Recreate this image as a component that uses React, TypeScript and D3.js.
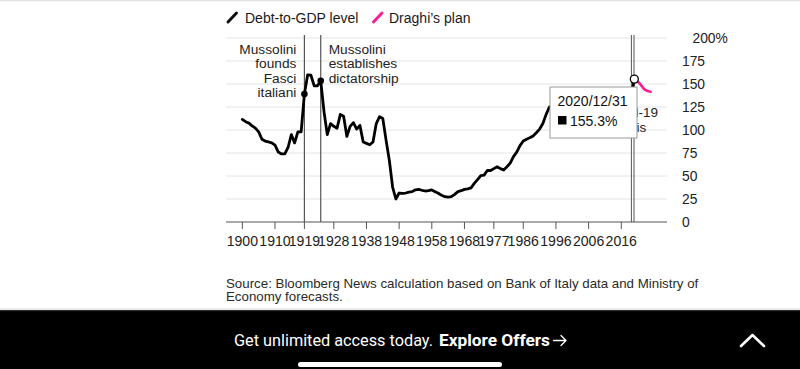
import React from "react";
import * as d3 from "d3";

const years = [
  1900, 1901, 1902, 1903, 1904, 1905, 1906, 1907, 1908, 1909,
  1910, 1911, 1912, 1913, 1914, 1915, 1916, 1917, 1918, 1919,
  1920, 1921, 1922, 1923, 1924, 1925, 1926, 1927, 1928, 1929,
  1930, 1931, 1932, 1933, 1934, 1935, 1936, 1937, 1938, 1939,
  1940, 1941, 1942, 1943, 1944, 1945, 1946, 1947, 1948, 1949,
  1950, 1951, 1952, 1953, 1954, 1955, 1956, 1957, 1958, 1959,
  1960, 1961, 1962, 1963, 1964, 1965, 1966, 1967, 1968, 1969,
  1970, 1971, 1972, 1973, 1974, 1975, 1976, 1977, 1978, 1979,
  1980, 1981, 1982, 1983, 1984, 1985, 1986, 1987, 1988, 1989,
  1990, 1991, 1992, 1993, 1994, 1995, 1996, 1997, 1998, 1999,
  2000, 2001, 2002, 2003, 2004, 2005, 2006, 2007, 2008, 2009,
  2010, 2011, 2012, 2013, 2014, 2015, 2016, 2017, 2018, 2019,
  2020,
];
const debtLevel = [
  111.5, 109, 107.5, 104.5, 102, 98, 90, 88, 87, 86,
  83.5, 76, 74, 74, 81, 95, 86, 98, 98, 139,
  160, 159.5, 148, 148, 153.5, 120, 95, 107, 104, 102,
  117, 115, 93, 104, 108, 101, 105, 87, 85.5, 84,
  87, 107, 114.5, 112.5, 89, 67, 38, 25, 31.5, 31,
  31.5, 32.5, 33, 35, 35.5, 34.5, 33.7, 34, 34.8, 33,
  31.2, 29, 27.5, 27, 27.5, 30, 33, 34, 35.5, 36,
  37, 42, 46, 50.5, 51, 56, 56, 58, 60, 58,
  56.5, 60, 64, 71, 76, 83, 88, 90, 91.5, 93.5,
  97, 101, 107, 117, 125, 122, 120, 117, 114, 112,
  108, 108, 105, 103, 103, 105, 106, 103, 106, 116,
  119, 120, 127, 132, 135, 135, 135, 134, 134.5, 134.5,
  155.3,
];
const planYears = [2020, 2021, 2022, 2023, 2024, 2025];
const planValues = [155.3, 153, 149, 144.5, 142.5, 141.5];

const xTicks = [1900, 1910, 1919, 1928, 1938, 1948, 1958, 1968, 1977, 1986, 1996, 2006, 2016];
const yTicks = [0, 25, 50, 75, 100, 125, 150, 175, 200];

const events = [
  { year: 1919, value: 139, lines: ["Mussolini", "founds", "Fasci", "italiani"], side: "left" },
  { year: 1924, value: 153.5, lines: ["Mussolini", "establishes", "dictatorship"], side: "right" },
];
const covidRange = [2019.1, 2019.9];
const covidLines = ["Covid-19", "crisis"];

const tooltipDate = "2020/12/31";
const tooltipYear = 2020;
const tooltipValue = 155.3;

const legendItems = [
  { label: "Debt-to-GDP level", color: "#111" },
  { label: "Draghi\u2019s plan", color: "#f81d92" },
];

const sourceLines = [
  "Source: Bloomberg News calculation based on Bank of Italy data and Ministry of",
  "Economy forecasts.",
];

const FONT = "'Liberation Sans', Arial, Helvetica, sans-serif";
const PINK = "#f81d92";

export default function App() {
  const W = 800;
  const H = 369;
  const x = d3.scaleLinear().domain([1895, 2030]).range([226, 667]);
  const y = d3.scaleLinear().domain([0, 200]).range([222, 38]);

  const debtData = years.map((yr, i) => ({ yr, v: debtLevel[i] }));
  const planData = planYears.map((yr, i) => ({ yr, v: planValues[i] }));

  const line = d3
    .line<{ yr: number; v: number }>()
    .x((d) => x(d.yr))
    .y((d) => y(d.v));
  const planLine = d3
    .line<{ yr: number; v: number }>()
    .x((d) => x(d.yr))
    .y((d) => y(d.v))
    .curve(d3.curveMonotoneX);

  const [x0, x1] = x.range();
  const lineTop = 35;

  const tx = 550;
  const ty = 87;
  const tw = 87;
  const th = 51;

  return (
    <svg
      width={W}
      height={H}
      style={{ position: "absolute", left: 0, top: 0, background: "#fff" }}
      fontFamily={FONT}
    >
      <rect x={0} y={0} width={W} height={1.2} fill="#e2e2e2" />

      {/* legend */}
      <g>
        <line x1={228} y1={22} x2={236.5} y2={13} stroke={legendItems[0].color} strokeWidth={3} strokeLinecap="round" />
        <text x={245} y={22.5} fontSize={14} fill="#1a1a1a">{legendItems[0].label}</text>
        <line x1={373.5} y1={22} x2={382} y2={13} stroke={legendItems[1].color} strokeWidth={3} strokeLinecap="round" />
        <text x={389} y={22.5} fontSize={14} fill="#1a1a1a">{legendItems[1].label}</text>
      </g>

      {/* grid */}
      {yTicks.map((t) =>
        t === 0 ? null : (
          <line key={t} x1={x0} x2={x1} y1={y(t)} y2={y(t)} stroke="#e4e4e4" strokeWidth={1} />
        )
      )}
      {yTicks.map((t) => (
        <text
          key={"l" + t}
          x={t === 200 ? 692.5 : 682}
          y={y(t) + 5}
          fontSize={13.8}
          fill="#222"
        >
          {t === 200 ? "200%" : String(t)}
        </text>
      ))}

      {/* x axis */}
      <line x1={x0} x2={x1} y1={y(0)} y2={y(0)} stroke="#555" strokeWidth={1.2} />
      {xTicks.map((t) => (
        <g key={t}>
          <line x1={x(t)} x2={x(t)} y1={y(0)} y2={y(0) + 7} stroke="#555" strokeWidth={1} />
          <text x={x(t)} y={245.5} fontSize={14.1} fill="#222" textAnchor="middle">
            {t}
          </text>
        </g>
      ))}

      {/* event lines */}
      {events.map((e) => (
        <line key={e.year} x1={x(e.year)} x2={x(e.year)} y1={lineTop} y2={y(0)} stroke="#555" strokeWidth={1.2} />
      ))}
      {covidRange.map((c, i) => (
        <line key={"c" + i} x1={x(c)} x2={x(c)} y1={lineTop} y2={y(0)} stroke="#555" strokeWidth={1} />
      ))}

      {/* event annotations */}
      {events.map((e) => (
        <text
          key={"t" + e.year}
          fontSize={13.7}
          fill="#222"
          textAnchor={e.side === "left" ? "end" : "start"}
        >
          {e.lines.map((l, i) => (
            <tspan key={i} x={x(e.year) + (e.side === "left" ? -8 : 8)} y={54 + i * 14.4}>
              {l}
            </tspan>
          ))}
        </text>
      ))}
      <text fontSize={13.5} fill="#222" textAnchor="middle">
        {covidLines.map((l, i) => (
          <tspan key={i} x={x(covidRange[0]) - 0.5} y={117 + i * 15}>
            {l}
          </tspan>
        ))}
      </text>

      {/* data */}
      <path d={line(debtData) || ""} fill="none" stroke="#000" strokeWidth={2.8} strokeLinejoin="round" strokeLinecap="round" />
      <path d={planLine(planData) || ""} fill="none" stroke={PINK} strokeWidth={2.6} strokeLinecap="round" />

      {events.map((e) => (
        <circle key={"d" + e.year} cx={x(e.year)} cy={y(e.value)} r={3.3} fill="#000" />
      ))}

      {/* tooltip */}
      <circle cx={x(tooltipYear)} cy={y(tooltipValue)} r={4} fill="#fff" stroke="#000" strokeWidth={1.3} />
      <g>
        <rect x={tx} y={ty} width={tw} height={th} fill="#fff" stroke="#9a9a9a" strokeWidth={1} />
        <text x={tx + 7.5} y={ty + 19} fontSize={14} fill="#111">{tooltipDate}</text>
        <rect x={tx + 8} y={ty + 29} width={8.5} height={8.5} fill="#000" />
        <text x={tx + 20} y={ty + 38.5} fontSize={14} fill="#111">{tooltipValue.toFixed(1) + "%"}</text>
      </g>

      {/* source */}
      {sourceLines.map((s, i) => (
        <text key={i} x={226} y={287.5 + i * 13} fontSize={13.3} fill="#2a2a2a">
          {s}
        </text>
      ))}
      <rect x={0} y={308.5} width={W} height={1} fill="#d8d8d8" />

      {/* banner */}
      <rect x={0} y={310} width={W} height={H - 310} fill="#000" />
      <rect x={0} y={310} width={W} height={1.2} fill="#2b2b2b" />
      <text x={234} y={345.5} fontSize={16} fill="#fff" fontFamily="Roboto, 'Liberation Sans', Arial, sans-serif" textLength={199} lengthAdjust="spacingAndGlyphs">
        Get unlimited access today.
      </text>
      <text x={439} y={345.5} fontSize={16} fill="#fff" fontWeight="bold" fontFamily="Roboto, 'Liberation Sans', Arial, sans-serif" textLength={111} lengthAdjust="spacingAndGlyphs">
        Explore Offers
      </text>
      <path d="M553.5,340.5 L566,340.5 M561,335.5 L566,340.5 L561,345.5" fill="none" stroke="#fff" strokeWidth={1.3} strokeLinecap="round" strokeLinejoin="round" />
      <path d="M741,346 L752.5,335 L764,346" fill="none" stroke="#fff" strokeWidth={2.6} strokeLinecap="round" strokeLinejoin="round" />
      <rect x={298} y={362} width={204} height={5} rx={2.5} fill="#fff" />
    </svg>
  );
}
